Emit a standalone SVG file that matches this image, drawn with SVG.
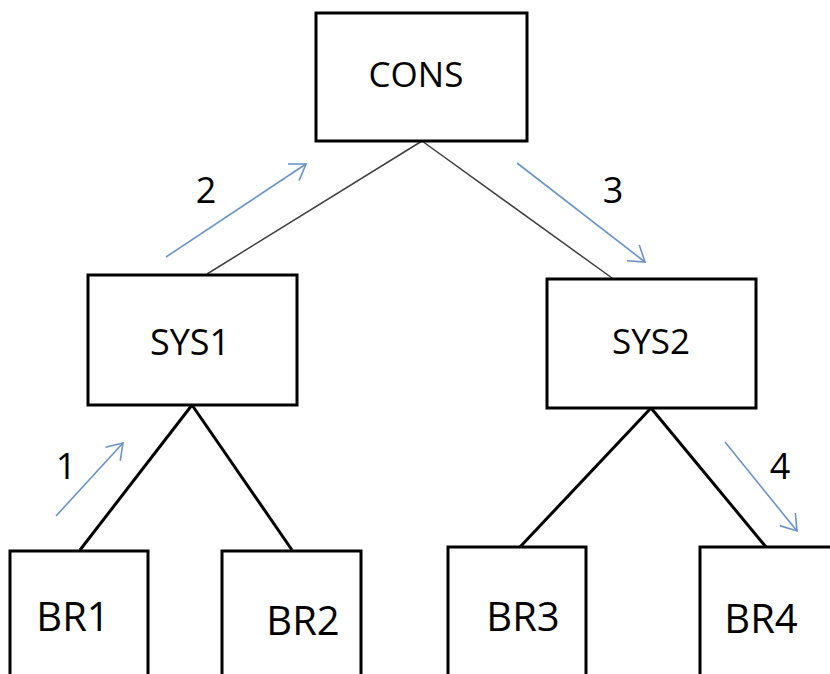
<svg xmlns="http://www.w3.org/2000/svg" width="830" height="674" viewBox="0 0 830 674">
<style>
.box{fill:#fff;stroke:#000;stroke-width:3}
.lbl{font-family:"Open Sans","Liberation Sans",sans-serif;fill:#000;text-anchor:middle}
.thin{stroke:#404040;stroke-width:1.5;fill:none}
.thick{stroke:#000;stroke-width:3;fill:none}
.flow{stroke:#6a93c8;stroke-width:1.6;fill:none;marker-end:url(#ah)}
</style>
<defs>
<marker id="ah" markerUnits="userSpaceOnUse" viewBox="-18 -12 20 24" refX="0" refY="0" markerWidth="20" markerHeight="24" orient="auto" overflow="visible">
<path d="M-15,-10 L0,0 L-15,10" fill="none" stroke="#6a93c8" stroke-width="1.6"/>
</marker>
</defs>
<g id="connectors">
<line class="thin" x1="422" y1="141" x2="207" y2="274"/>
<line class="thin" x1="422" y1="141" x2="612" y2="278"/>
<line class="thick" x1="192" y1="405" x2="80" y2="550"/>
<line class="thick" x1="192" y1="405" x2="292" y2="550"/>
<line class="thick" x1="651" y1="408" x2="520" y2="547"/>
<line class="thick" x1="651" y1="408" x2="766" y2="547"/>
<line class="flow" x1="166" y1="257" x2="306" y2="164"/>
<line class="flow" x1="517" y1="163" x2="645" y2="262"/>
<line class="flow" x1="56" y1="516" x2="123" y2="443"/>
<line class="flow" x1="725" y1="442" x2="797" y2="531"/>
</g>
<g id="labels">
<text class="lbl" x="206" y="203" font-size="36">2</text>
<text class="lbl" x="613" y="203" font-size="36">3</text>
<text class="lbl" x="66" y="479" font-size="36">1</text>
<text class="lbl" x="780" y="479" font-size="36">4</text>
</g>
<g id="CONS">
<rect class="box" x="316" y="13" width="211" height="128"/>
<text class="lbl" x="416" y="87" font-size="35">CONS</text>
</g>
<g id="SYS1">
<rect class="box" x="88" y="275" width="209" height="130"/>
<text class="lbl" x="190" y="355" font-size="36">SYS1</text>
</g>
<g id="SYS2">
<rect class="box" x="547" y="279" width="209" height="129"/>
<text class="lbl" x="651" y="354" font-size="35">SYS2</text>
</g>
<g id="BR1">
<rect class="box" x="10" y="551" width="138" height="140"/>
<text class="lbl" x="73" y="631" font-size="40">BR1</text>
</g>
<g id="BR2">
<rect class="box" x="222" y="551" width="139" height="140"/>
<text class="lbl" x="303" y="635" font-size="40">BR2</text>
</g>
<g id="BR3">
<rect class="box" x="448" y="547" width="138" height="140"/>
<text class="lbl" x="523" y="631" font-size="40">BR3</text>
</g>
<g id="BR4">
<rect class="box" x="700" y="547" width="140" height="140"/>
<text class="lbl" x="761" y="633" font-size="40">BR4</text>
</g>
</svg>
